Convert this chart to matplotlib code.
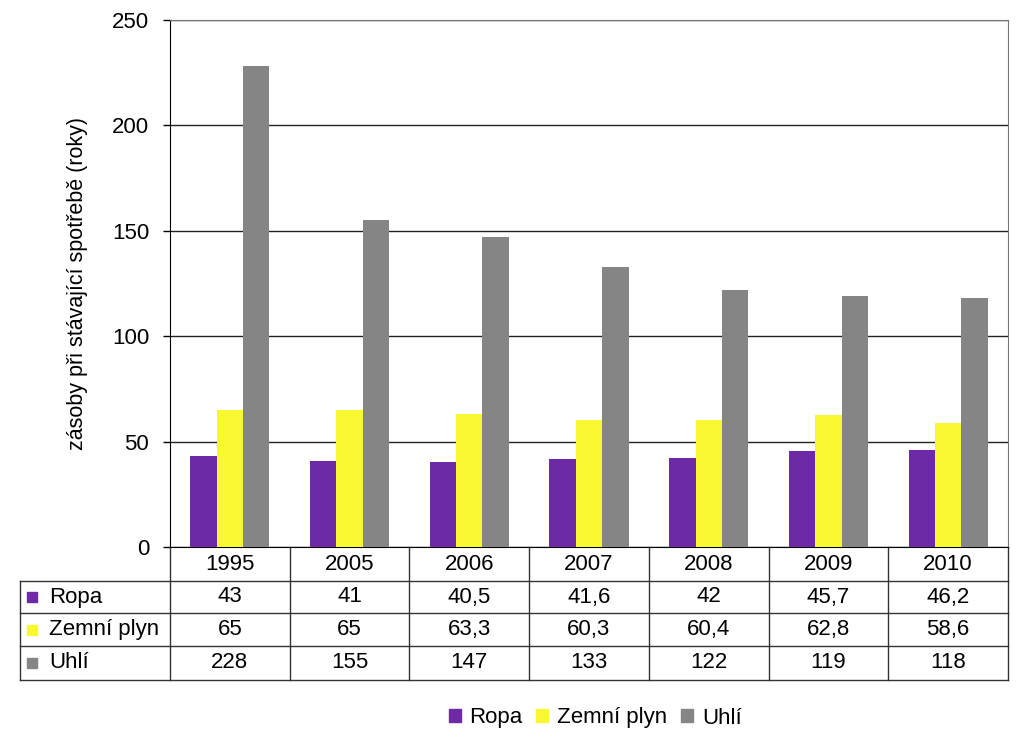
import numpy as np
import matplotlib
matplotlib.use("Agg")
import matplotlib.pyplot as plt
from matplotlib.patches import Patch, Rectangle

plt.rcParams['font.family'] = ['Liberation Sans', 'DejaVu Sans']

# data
years = ['1995', '2005', '2006', '2007', '2008', '2009', '2010']
series_names = ['Ropa', 'Zemní plyn', 'Uhlí']
ropa = [43, 41, 40.5, 41.6, 42, 45.7, 46.2]
plyn = [65, 65, 63.3, 60.3, 60.4, 62.8, 58.6]
uhli = [228, 155, 147, 133, 122, 119, 118]
colors = ['#6e2aa6', '#f8f832', '#858585']
y_ticks = [0, 50, 100, 150, 200, 250]
y_label = 'zásoby při stávající spotřebě (roky)'


def fmt(v):
    return ('%g' % v).replace('.', ',')


fig = plt.figure(figsize=(10.23, 7.4), dpi=100)
ax = fig.add_axes([170 / 1023, 1 - 547 / 740, 838 / 1023, 527 / 740])

x = np.arange(len(years))
w = 0.22
all_series = [ropa, plyn, uhli]
for k, vals in enumerate(all_series):
    ax.bar(x + (k - 1) * w, vals, width=w, color=colors[k], zorder=3)

ax.set_xlim(-0.5, len(years) - 0.5)
ax.set_ylim(0, 250)
ax.set_yticks(y_ticks)
ax.set_xticks([])
ax.tick_params(axis='y', labelsize=16, length=5, width=1, pad=10)
ax.yaxis.grid(True, color='#222222', linewidth=1, zorder=1)
ax.spines['left'].set_color('black')
ax.spines['bottom'].set_color('black')
ax.spines['top'].set_color('#777777')
ax.spines['right'].set_color('#777777')
ax.set_ylabel(y_label, fontsize=15.5, labelpad=17)

# data table below the plot (axes coords in y, data coords in x)
tr = ax.get_xaxis_transform()
row_y = [0, -34 / 527, -66 / 527, -99 / 527, -133 / 527]
px = len(years) / 838   # one pixel in data units along x
x_left = -0.5 + (20 - 170) * px
x_right = len(years) - 0.5
line_kw = dict(color='#333333', linewidth=1, transform=tr, clip_on=False)

# horizontal lines
for i in range(1, 5):
    ax.plot([x_left, x_right], [row_y[i], row_y[i]], **line_kw)
# verticals between year columns
for i in range(len(years) + 1):
    xc = -0.5 + i
    ax.plot([xc, xc], [row_y[0], row_y[4]], **line_kw)
# left edge of row label column
ax.plot([x_left, x_left], [row_y[1], row_y[4]], **line_kw)

for i, yr in enumerate(years):
    ax.text(i, (row_y[0] + row_y[1]) / 2, yr, transform=tr, ha='center',
            va='center', fontsize=16, clip_on=False)

for r, vals in enumerate(all_series):
    yc = (row_y[r + 1] + row_y[r + 2]) / 2
    for i, v in enumerate(vals):
        ax.text(i, yc, fmt(v), transform=tr, ha='center', va='center',
                fontsize=16, clip_on=False)
    ax.add_patch(Rectangle((x_left + 7 * px, yc - 5 / 527), 10 * px, 10 / 527,
                           transform=tr, color=colors[r], clip_on=False))
    ax.text(x_left + 29 * px, yc, series_names[r], transform=tr,
            ha='left', va='center', fontsize=16, clip_on=False)

handles = [Patch(color=c, label=n) for c, n in zip(colors, series_names)]
fig.legend(handles=handles, loc='center', bbox_to_anchor=(595 / 1023, 1 - 718 / 740),
           ncol=3, frameon=False, fontsize=16, handlelength=0.55, handleheight=0.55,
           handletextpad=0.4, columnspacing=0.6)

fig.savefig('out.png', dpi=100)
